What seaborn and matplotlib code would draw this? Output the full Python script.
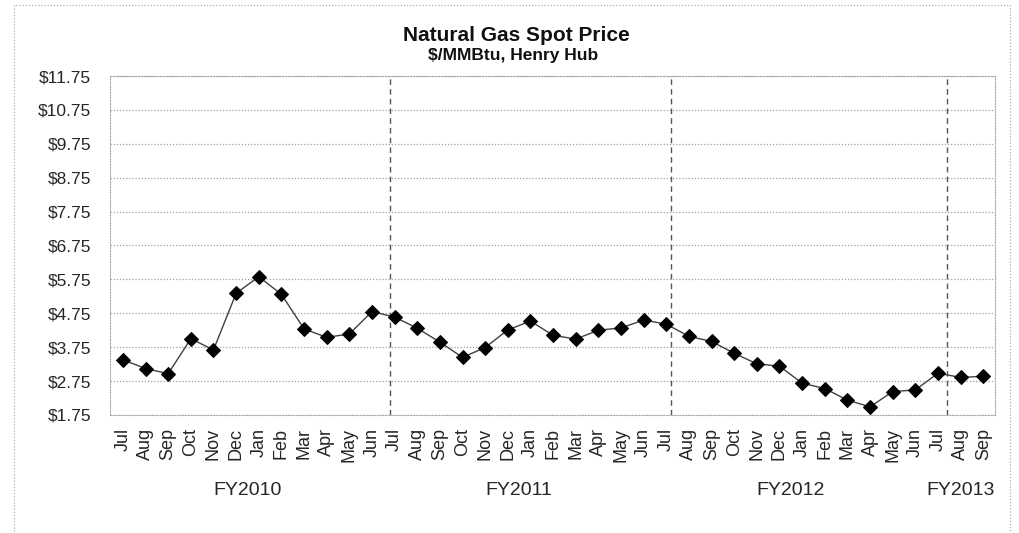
import numpy as np
import pandas as pd
import matplotlib
matplotlib.use("Agg")
import matplotlib.pyplot as plt
import matplotlib.transforms as mtransforms
from matplotlib.patches import Rectangle
import seaborn as sns

# ---- data ----
months = ["Jul", "Aug", "Sep", "Oct", "Nov", "Dec", "Jan", "Feb", "Mar", "Apr", "May", "Jun",
          "Jul", "Aug", "Sep", "Oct", "Nov", "Dec", "Jan", "Feb", "Mar", "Apr", "May", "Jun",
          "Jul", "Aug", "Sep", "Oct", "Nov", "Dec", "Jan", "Feb", "Mar", "Apr", "May", "Jun",
          "Jul", "Aug", "Sep"]
prices = [3.38, 3.12, 2.97, 4.00, 3.67, 5.34, 5.83, 5.31, 4.29, 4.04, 4.14, 4.80,
          4.64, 4.31, 3.90, 3.45, 3.74, 4.26, 4.52, 4.10, 3.99, 4.25, 4.32, 4.55,
          4.43, 4.07, 3.92, 3.57, 3.26, 3.19, 2.69, 2.53, 2.19, 1.99, 2.44, 2.49,
          2.98, 2.86, 2.89]
fiscal_years = ["FY2010", "FY2011", "FY2012", "FY2013"]
fy_centers = [5.5, 17.5, 29.5, 37.0]
y_ticks = [1.75, 2.75, 3.75, 4.75, 5.75, 6.75, 7.75, 8.75, 9.75, 10.75, 11.75]

df = pd.DataFrame({"idx": np.arange(len(prices)), "price": prices})

sns.set_style("white")
plt.rcParams["font.family"] = ["Liberation Sans", "DejaVu Sans"]

fig = plt.figure(figsize=(10.2, 5.33), dpi=100)
ax = fig.add_axes([0.1083, 0.2214, 0.9755 - 0.1083, 0.8574 - 0.2214])

# horizontal grid
for yv in y_ticks:
    ax.axhline(yv, color="#a0a0a0", lw=0.9, ls=(0, (1, 1.5)), zorder=1)

# fiscal-year dividers
for xv in [11.8, 24.2, 36.4]:
    ax.axvline(xv, color="#555555", lw=1.0, ls=(0, (4, 3)), zorder=1)

sns.lineplot(data=df, x="idx", y="price", ax=ax, color="#404040", lw=1.0,
             marker="D", markersize=7, markerfacecolor="black",
             markeredgecolor="black", zorder=3)

ax.set_xlim(-0.55, 38.52)
ax.set_ylim(1.75, 11.75)
ax.set_xticks(np.arange(len(months)))
ax.set_xticklabels(months, rotation=90, fontsize=13, color="#262626")
ax.set_yticks(y_ticks)
ax.set_yticklabels([f"${v:.2f}" for v in y_ticks], fontsize=12.5, color="#262626")
ax.tick_params(axis="both", length=0)
ax.tick_params(axis="y", pad=14)
ax.tick_params(axis="x", pad=9.5)
ax.set_xlabel("")
ax.set_ylabel("")
for sp in ax.spines.values():
    sp.set_color("#a8a8a8")
    sp.set_linewidth(0.8)
    sp.set_linestyle((0, (1, 1.5)))

# fiscal year labels
trans = mtransforms.blended_transform_factory(ax.transData, fig.transFigure)
for lab, xc in zip(fiscal_years, fy_centers):
    ax.text(xc, 1 - 495 / 533, lab, transform=trans, ha="center", va="baseline",
            fontsize=14, color="#262626")

# titles
fig.text(516 / 1020, 1 - 41 / 533, "Natural Gas Spot Price", ha="center",
         va="baseline", fontsize=15, fontweight="bold", color="#111111")
fig.text(513 / 1020, 1 - 60 / 533, "$/MMBtu, Henry Hub", ha="center",
         va="baseline", fontsize=12.5, fontweight="bold", color="#111111")

# outer chart border
fig.patches.append(Rectangle((14 / 1020, -0.05), (1010 - 14) / 1020, 1 - 5 / 533 + 0.05,
                             transform=fig.transFigure, fill=False,
                             edgecolor="#b0b0b0", lw=0.9, ls=(0, (1, 1.5))))

fig.savefig("out.png", dpi=100)
